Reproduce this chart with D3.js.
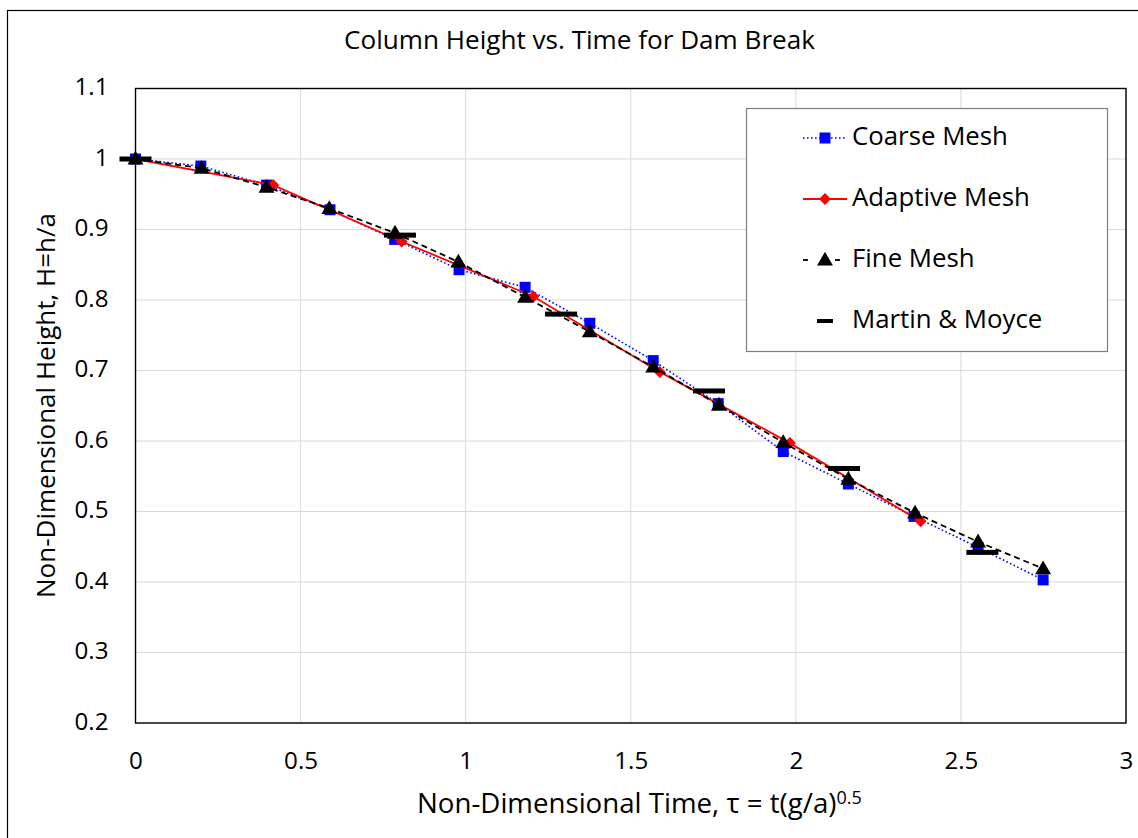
<!DOCTYPE html>
<html>
<head>
<meta charset="utf-8">
<script src="https://cdn.jsdelivr.net/npm/d3@7"></script>
<style>
  html, body { margin: 0; padding: 0; background: #fff; }
  svg { display: block; }
  text { font-family: "Open Sans", "DejaVu Sans", sans-serif; fill: #000; }
</style>
</head>
<body>
<svg id="chart" width="1138" height="838"></svg>
<script>
// ---- data ----
const timeCoarse   = [0, 0.198, 0.397, 0.589, 0.785, 0.980, 1.180, 1.376, 1.568, 1.765, 1.962, 2.159, 2.358, 2.552, 2.749];
const heightCoarse = [1.000, 0.990, 0.963, 0.928, 0.886, 0.843, 0.818, 0.767, 0.714, 0.653, 0.585, 0.539, 0.493, 0.449, 0.403];

const timeAdaptive   = [0, 0.417, 0.806, 1.205, 1.588, 1.982, 2.378];
const heightAdaptive = [1.000, 0.963, 0.883, 0.805, 0.698, 0.597, 0.486];

const timeFine   = [0, 0.200, 0.397, 0.587, 0.786, 0.978, 1.180, 1.376, 1.568, 1.767, 1.962, 2.159, 2.361, 2.552, 2.749];
const heightFine = [1.000, 0.987, 0.960, 0.930, 0.895, 0.854, 0.804, 0.755, 0.705, 0.651, 0.598, 0.546, 0.498, 0.457, 0.419];

const timeMM   = [0, 0.801, 1.289, 1.737, 2.146, 2.565];
const heightMM = [1.000, 0.892, 0.780, 0.671, 0.561, 0.442];

const xTicks = [0, 0.5, 1, 1.5, 2, 2.5, 3];
const yTicks = [0.2, 0.3, 0.4, 0.5, 0.6, 0.7, 0.8, 0.9, 1.0, 1.1];
const xTickLabels = ["0", "0.5", "1", "1.5", "2", "2.5", "3"];
const yTickLabels = ["0.2", "0.3", "0.4", "0.5", "0.6", "0.7", "0.8", "0.9", "1", "1.1"];

const titleText = "Column Height vs. Time for Dam Break";
const xTitleMain = "Non-Dimensional Time, \u03C4 = t(g/a)";
const xTitleSup = "0.5";
const yTitleText = "Non-Dimensional Height, H=h/a";
const legendNames = ["Coarse Mesh", "Adaptive Mesh", "Fine Mesh", "Martin & Moyce"];

// ---- layout ----
const svg = d3.select("#chart");
const L = 135.5, R = 1126, T = 88.5, B = 723;
const x = d3.scaleLinear().domain([0, 3]).range([L, R]);
const y = d3.scaleLinear().domain([0.2, 1.1]).range([B, T]);

function fit(sel, target, base) {
  sel.attr("font-size", base);
  const w = sel.node().getComputedTextLength();
  sel.attr("font-size", base * target / w);
  return base * target / w;
}

// outer chart border
svg.append("rect").attr("x", 7.5).attr("y", 10.5).attr("width", 1140).attr("height", 840)
  .attr("fill", "none").attr("stroke", "#000").attr("stroke-width", 1.2);

// gridlines
const grid = svg.append("g");
grid.selectAll("line.gx").data(xTicks).join("line")
  .attr("x1", d => x(d)).attr("x2", d => x(d)).attr("y1", T).attr("y2", B)
  .attr("stroke", "#d9d9d9").attr("stroke-width", 1);
grid.selectAll("line.gy").data(yTicks).join("line")
  .attr("y1", d => y(d)).attr("y2", d => y(d)).attr("x1", L).attr("x2", R)
  .attr("stroke", "#d9d9d9").attr("stroke-width", 1);

// axes (labels only, via d3 axes)
const xAxis = d3.axisBottom(x).tickValues(xTicks).tickFormat((d, i) => xTickLabels[i]).tickSize(0).tickPadding(0);
const yAxis = d3.axisLeft(y).tickValues(yTicks).tickFormat((d, i) => yTickLabels[i]).tickSize(0).tickPadding(0);
const gx = svg.append("g").attr("transform", `translate(0,${B})`).call(xAxis);
const gy = svg.append("g").attr("transform", `translate(${L},0)`).call(yAxis);
gx.select(".domain").remove(); gy.select(".domain").remove();

const probe = svg.append("text").text("0.5");
const tickFs = fit(probe, 33, 22) * 1.03;
probe.remove();
gx.selectAll("text").attr("font-size", tickFs).attr("font-family", "Open Sans").attr("fill", "#000")
  .attr("dy", 0).attr("y", 40).attr("dominant-baseline", "middle");
gy.selectAll("text").attr("font-size", tickFs).attr("font-family", "Open Sans").attr("fill", "#000")
  .attr("dy", 0).attr("x", -27).attr("dominant-baseline", "middle");

// plot border
svg.append("rect").attr("x", L).attr("y", T).attr("width", R - L).attr("height", B - T)
  .attr("fill", "none").attr("stroke", "#000").attr("stroke-width", 1.4);

// title
const title = svg.append("text").attr("x", 579.5).attr("y", 42).attr("text-anchor", "middle")
  .attr("dominant-baseline", "middle").text(titleText);
fit(title, 471, 22);

// x title
const xt = svg.append("text").attr("x", 417).attr("y", 813);
xt.append("tspan").text(xTitleMain);
const xsup = xt.append("tspan").attr("dy", -9).text(xTitleSup);
{
  let base = 22;
  xt.attr("font-size", base); xsup.attr("font-size", base * 0.65);
  const w = xt.node().getComputedTextLength();
  const fs = base * 445 / w;
  xt.attr("font-size", fs); xsup.attr("font-size", fs * 0.65);
}

// y title
const yt = svg.append("text").attr("transform", "translate(48,405.5) rotate(-90)")
  .attr("text-anchor", "middle").attr("dominant-baseline", "middle").text(yTitleText);
fit(yt, 385, 22);

// ---- series ----
const plot = svg.append("g");
function zip(xs, ys) { return xs.map((v, i) => [v, ys[i]]); }
const line = d3.line().x(d => x(d[0])).y(d => y(d[1]));

const coarse = zip(timeCoarse, heightCoarse);
const adaptive = zip(timeAdaptive, heightAdaptive);
const fine = zip(timeFine, heightFine);
const mm = zip(timeMM, heightMM);

const symSquare = d3.symbol().type(d3.symbolSquare).size(121);
const symDiamond = d3.symbol().type(d3.symbolSquare).size(72);
const symTriangle = d3.symbol().type(d3.symbolTriangle).size(110);

// Coarse
plot.append("path").datum(coarse).attr("d", line).attr("fill", "none")
  .attr("stroke", "#0000ff").attr("stroke-width", 1.6).attr("stroke-dasharray", "1.6,2.4");
plot.selectAll("path.sq").data(coarse).join("path").attr("class", "sq")
  .attr("d", symSquare).attr("transform", d => `translate(${x(d[0])},${y(d[1])})`)
  .attr("fill", "#0000ff");

// Adaptive
plot.append("path").datum(adaptive).attr("d", line).attr("fill", "none")
  .attr("stroke", "#ff0000").attr("stroke-width", 1.8);
plot.selectAll("path.dm").data(adaptive).join("path").attr("class", "dm")
  .attr("d", symDiamond).attr("transform", d => `translate(${x(d[0])},${y(d[1])}) rotate(45)`)
  .attr("fill", "#ff0000");

// Fine
plot.append("path").datum(fine).attr("d", line).attr("fill", "none")
  .attr("stroke", "#000").attr("stroke-width", 1.8).attr("stroke-dasharray", "6,4");
plot.selectAll("path.tr").data(fine).join("path").attr("class", "tr")
  .attr("d", symTriangle).attr("transform", d => `translate(${x(d[0])},${y(d[1]) + 1})`)
  .attr("fill", "#000");

// Martin & Moyce
plot.selectAll("rect.mm").data(mm).join("rect").attr("class", "mm")
  .attr("x", d => x(d[0]) - 16).attr("y", d => y(d[1]) - 2.5)
  .attr("width", 32).attr("height", 5).attr("fill", "#000");

// ---- legend ----
const lg = svg.append("g");
lg.append("rect").attr("x", 746.5).attr("y", 108.5).attr("width", 361).attr("height", 243)
  .attr("fill", "#fff").attr("stroke", "#7f7f7f").attr("stroke-width", 1.2);
const ly = [138, 199, 260, 321];
const mx = 825;
// coarse
lg.append("line").attr("x1", 803).attr("x2", 846).attr("y1", ly[0]).attr("y2", ly[0])
  .attr("stroke", "#0000ff").attr("stroke-width", 1.6).attr("stroke-dasharray", "1.6,2.4");
lg.append("path").attr("d", symSquare).attr("transform", `translate(${mx},${ly[0]})`).attr("fill", "#0000ff");
// adaptive
lg.append("line").attr("x1", 803).attr("x2", 847).attr("y1", ly[1]).attr("y2", ly[1])
  .attr("stroke", "#ff0000").attr("stroke-width", 1.8);
lg.append("path").attr("d", symDiamond).attr("transform", `translate(${mx},${ly[1]}) rotate(45)`).attr("fill", "#ff0000");
// fine
lg.append("line").attr("x1", 803).attr("x2", 808).attr("y1", ly[2]).attr("y2", ly[2])
  .attr("stroke", "#000").attr("stroke-width", 1.8);
lg.append("line").attr("x1", 835).attr("x2", 840).attr("y1", ly[2]).attr("y2", ly[2])
  .attr("stroke", "#000").attr("stroke-width", 1.8);
lg.append("path").attr("d", symTriangle).attr("transform", `translate(${mx},${ly[2] + 1})`).attr("fill", "#000");
// M&M
lg.append("rect").attr("x", mx - 8).attr("y", ly[3] - 2).attr("width", 16).attr("height", 4).attr("fill", "#000");

const legFs = (function () {
  const p = svg.append("text").text(legendNames[0]);
  const f = fit(p, 156, 22); p.remove(); return f;
})();
lg.selectAll("text.lt").data(legendNames).join("text").attr("class", "lt")
  .attr("x", 852).attr("y", (d, i) => ly[i]).attr("dominant-baseline", "middle")
  .attr("font-size", legFs).text(d => d);
</script>
</body>
</html>
